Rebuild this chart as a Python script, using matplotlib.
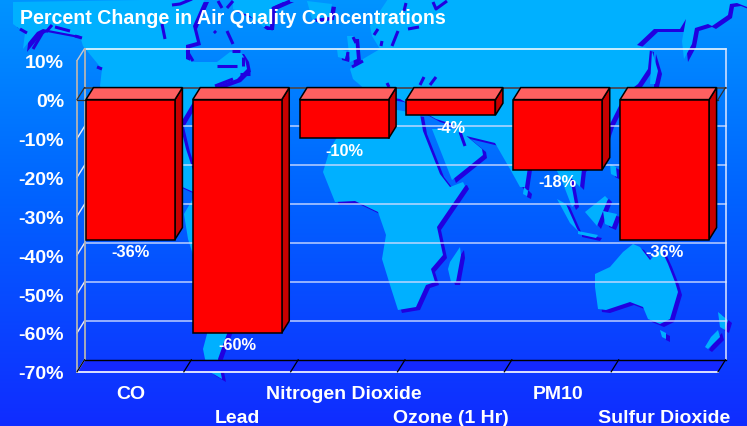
import numpy as np
import matplotlib
matplotlib.use("Agg")
import matplotlib.pyplot as plt
from matplotlib.patches import Polygon

categories = ["CO", "Lead", "Nitrogen Dioxide", "Ozone (1 Hr)", "PM10", "Sulfur Dioxide"]
values = [-36, -60, -10, -4, -18, -36]
bar_labels = ["-36%", "-60%", "-10%", "-4%", "-18%", "-36%"]
y_ticks = [10, 0, -10, -20, -30, -40, -50, -60, -70]
y_labels = ["10%", "0%", "-10%", "-20%", "-30%", "-40%", "-50%", "-60%", "-70%"]
title = "Percent Change in Air Quality Concentrations"

plt.rcParams["font.family"] = ["Liberation Sans", "DejaVu Sans"]
W, H = 747, 427
fig = plt.figure(figsize=(W / 100, H / 100), dpi=100)

# ---------- decorative background: gradient sea and stylised world map (pixel space)
bg = fig.add_axes([0, 0, 1, 1])
bg.set_xlim(0, W); bg.set_ylim(H, 0); bg.axis("off")
rows = np.linspace(0, 1, 256)[:, None]
grad = np.dstack([np.interp(rows, [0, .45, 1], [0, 0, 16]),
                  np.interp(rows, [0, .45, 1], [148, 100, 44]),
                  np.full_like(rows, 255)]) / 255
bg.imshow(grad, extent=(0, W, H, 0), aspect="auto", zorder=0)
bg.set_xlim(0, W); bg.set_ylim(H, 0)

land = [
    # North America
    [(13,3),(205,0),(193,27),(197,43),(186,46),(186,60),(193,63),(217,63),(230,53),(240,52),(245,60),(247,70),(237,80),(223,85),(210,90),(195,100),(180,125),(186,150),(196,180),(200,196),(178,186),(150,150),(110,105),(100,87),(102,70),(83,47),(80,37),(43,30),(37,33),(23,50),(25,34),(13,25)],
    # Greenland
    [(233,0),(290,0),(272,8),(270,28),(263,28),(250,17),(233,10)],
    # Iceland
    [(307,2),(332,5),(330,18),(312,20)],
    # South America
    [(195,196),(240,205),(276,225),(268,262),(245,290),(232,320),(227,335),(223,346),(218,360),(222,380),(210,373),(205,360),(203,350),(207,335),(204,290),(188,240),(184,215)],
    # Eurasia
    [(388,0),(747,0),(747,8),(737,4),(730,5),(728,16),(712,27),(708,25),(695,29),(692,45),(684,60),(682,42),(686,20),(680,30),(654,30),(637,46),(650,50),(648,70),(638,85),(625,95),(610,125),(605,140),(600,150),(582,170),(580,188),(570,178),(575,205),(572,208),(562,182),(555,168),(540,160),(528,168),(525,188),(520,188),(510,170),(495,144),(462,136),(458,130),(452,125),(436,120),(400,100),(370,95),(353,80),(350,70),(363,60),(380,50),(372,37),(370,27)],
    # Korea
    [(652,52),(658,72),(655,85),(650,85)],
    # Arabia
    [(432,130),(458,130),(482,150),(483,156),(452,181)],
    # Africa
    [(323,173),(330,150),(345,125),(380,108),(420,115),(423,132),(440,175),(450,188),(463,183),(465,187),(437,228),(443,256),(431,270),(435,283),(426,286),(416,308),(398,311),(390,286),(382,260),(386,236),(378,213),(355,202),(335,203)],
    # Madagascar
    [(460,248),(461,256),(456,283),(451,283),(448,270),(450,263)],
    # Australia
    [(595,275),(610,268),(623,253),(633,245),(640,248),(650,261),(661,250),(668,265),(675,283),(678,293),(670,320),(660,325),(648,320),(643,308),(630,303),(606,311),(598,310),(595,288)],
    # Tasmania
    [(660,331),(666,334),(666,340),(662,338)],
    # New Zealand
    [(718,313),(728,321),(725,331),(720,328)],
    [(718,331),(720,338),(708,350),(705,348),(711,338)],
    # Indonesia and Philippines
    [(557,200),(566,205),(578,232),(570,224)],
    [(578,232),(598,236),(596,239),(578,235)],
    [(585,213),(605,197),(608,200),(597,227)],
    [(603,212),(617,215),(612,228),(605,225)],
    [(610,165),(616,168),(617,178),(611,175)],
    # Sri Lanka
    [(524,188),(528,192),(527,197),(523,195)],
    # Ireland and Britain
    [(337,50),(347,52),(345,60),(338,58)],
    [(347,37),(355,37),(357,60),(350,63)],
]
# dark inland seas and coast marks, pixel polylines
coast_marks = [
    [(20,30),(27,34)], [(43,33),(33,50)], [(46,33),(52,26)], [(55,28),(70,32)], [(75,37),(82,39)], [(97,68),(102,70)],
    [(172,6),(180,5),(192,0)], [(162,25),(165,40)], [(218,2),(222,9)], [(227,9),(233,2)], [(214,32),(216,34)],
    [(227,32),(233,45)], [(187,52),(193,62)], [(232,52),(240,52)], [(243,58),(243,67)], [(217,67),(237,67)],
    [(240,75),(250,75)], [(215,87),(233,80)], [(272,10),(290,2)], [(265,28),(273,30)],
    [(406,4),(404,12)], [(433,3),(436,10),(447,2)], [(378,30),(374,36)], [(382,42),(381,47)], [(398,32),(392,47)],
    [(408,30),(419,28)], [(353,38),(356,44)], [(347,60),(348,53)], [(352,68),(363,62)], [(387,84),(389,88)],
    [(420,86),(424,78)], [(430,86),(436,78)],
    [(460,133),(465,147)],
]
for p in land:
    bg.add_patch(Polygon(np.array(p) + [4, 3], closed=True, fc="#2000e0", ec="none", zorder=1))
for p in land:
    bg.add_patch(Polygon(p, closed=True, fc="#00b0ff", ec="none", zorder=2))
for p in coast_marks:
    a = np.array(p)
    bg.plot(a[:, 0], a[:, 1], color="#2000e0", lw=2.2, solid_capstyle="butt", zorder=3)

bg.text(20, 18, title, color="white", fontsize=14.1, fontweight="bold", va="center", ha="left", zorder=5)

# ---------- chart: axes = front plane of the 3-D box
left, right, top, bottom = 77, 718, 61.7, 372.8
ax = fig.add_axes([left / W, 1 - bottom / H, (right - left) / W, (bottom - top) / H])
ax.patch.set_alpha(0)
ax.set_xlim(-0.5, 5.5)
ax.set_ylim(-70, 10)
for s in ax.spines.values():
    s.set_visible(False)

DX = 7.5 / ((right - left) / 6)          # depth in category units
DY = 12 / ((bottom - top) / 80)          # depth in value units
HW = 0.4165                              # half a bar width
X0, X1 = -0.5, 5.5
kw = dict(clip_on=False)

# floor
ax.add_patch(Polygon([(X0, -70), (X1, -70), (X1 + DX, -70 + DY), (X0 + DX, -70 + DY)],
                     closed=True, fc="#1428ff", ec="none", zorder=1, **kw))
# back wall grid and side wall
for v in y_ticks:
    if v > -70:
        ax.plot([X0 + DX, X1 + DX], [v + DY, v + DY], color="#ffffff" if v == 10 else "#d0dcff",
                lw=1.1, alpha=1 if v == 10 else .9, zorder=2, **kw)
    if v not in (0,):
        ax.plot([X0, X0 + DX], [v, v + DY], color="#c8c8d0" if v == 10 else "#e8ecff", lw=1, zorder=2, **kw)
ax.plot([X0, X0], [-70, 10], color="#b4b4b4", lw=1.3, zorder=2, **kw)
ax.plot([X0 + DX] * 2, [-70 + DY, 10 + DY], color="#b4b4b4", lw=1.3, zorder=2, **kw)
ax.plot([X1 + DX] * 2, [-70 + DY, 10 + DY], color="#dfe6ff", lw=1.1, zorder=2, **kw)
ax.plot([X0, X1], [-70, -70], color="white", lw=1.2, zorder=3, **kw)
ax.plot([X0 + DX, X1 + DX], [-70 + DY] * 2, color="black", lw=1, zorder=3, **kw)
for i in range(7):
    ax.plot([X0 + i, X0 + i + DX], [-70, -70 + DY], color="black", lw=.9, zorder=3, **kw)
# zero plane
ax.plot([X0 + DX, X1 + DX], [DY, DY], color="#303848", lw=1.2, zorder=3, **kw)
ax.plot([X0, X0 + DX], [0, DY], color="#303030", lw=.9, zorder=3, **kw)
ax.plot([X1, X1 + DX], [0, DY], color="#303030", lw=.9, zorder=3, **kw)
ax.plot([X0, X0 + .09], [0, 0], color="#303030", lw=.9, zorder=3, **kw)
ax.plot([X1 - .09, X1], [0, 0], color="#303030", lw=.9, zorder=3, **kw)

# bars
edge = dict(ec="black", lw=1.1, joinstyle="miter", zorder=4, clip_on=False)
xs = np.arange(len(categories))
for x, v, lab in zip(xs, values, bar_labels):
    a, b = x - HW, x + HW
    ax.add_patch(Polygon([(b, 0), (b + DX, DY), (b + DX, v + DY), (b, v)], closed=True, fc="#c80000", **edge))
    ax.add_patch(Polygon([(a, 0), (b, 0), (b + DX, DY), (a + DX, DY)], closed=True, fc="#ff6060", **edge))
    ax.add_patch(Polygon([(a, 0), (b, 0), (b, v), (a, v)], closed=True, fc="#ff0000", **edge))
    ax.annotate(lab, (x, v), xytext=(0, -8.6), textcoords="offset points", ha="center", va="center",
                color="white", fontsize=11.8, fontweight="bold", zorder=6)

# axes text
ax.set_yticks(y_ticks, y_labels)
ax.set_xticks(xs, categories)
ax.tick_params(axis="y", length=0, pad=9.3, labelsize=14, labelcolor="white")
ax.tick_params(axis="x", length=0, labelsize=14, labelcolor="white")
for lbl in ax.get_yticklabels() + ax.get_xticklabels():
    lbl.set_fontweight("bold")
for i, t in enumerate(ax.xaxis.get_major_ticks()):
    t.set_pad(9.2 if i % 2 == 0 else 26.5)

fig.savefig("out.png", dpi=100)
